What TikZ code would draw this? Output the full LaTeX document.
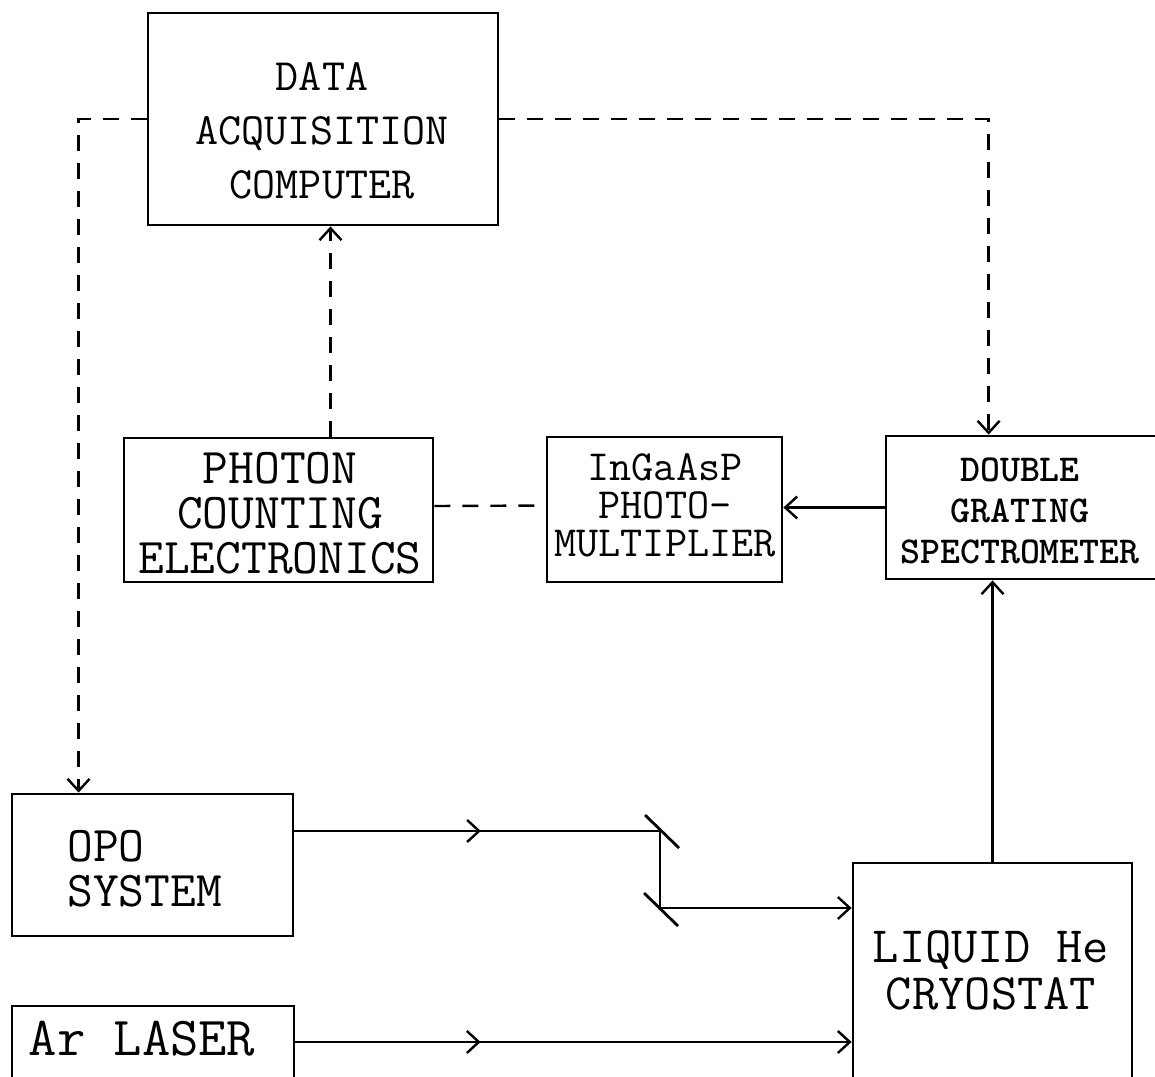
\documentclass[tikz,border=0pt]{standalone}
\usetikzlibrary{arrows.meta,decorations.markings}
\begin{document}
\begin{tikzpicture}[x=0.5pt,y=-0.5pt,
  box/.style={draw,line width=1.4pt,rectangle,inner sep=0pt},
  lbl/.style={inner sep=0pt,align=center,font=\ttfamily},
  conn/.style={line width=1.2pt},
  dashconn/.style={line width=1.2pt,dash pattern=on 8pt off 6pt},
  tip/.style={-{Straight Barb[length=6pt,width=11pt]}},
  midtip/.style={postaction={decorate},decoration={markings,
     mark=at position #1 with {\arrow{Straight Barb[length=6pt,width=11pt]}}}},
  mirror/.style={line width=1.4pt}]
\useasboundingbox (0,0) rectangle (1155,1076);

% boxes
\node[box,minimum width=175pt,minimum height=106pt] (comp) at (323,119) {};
\node[box,minimum width=154.5pt,minimum height=72pt] (phot) at (278.5,510) {};
\node[box,minimum width=117.5pt,minimum height=72.5pt] (pmt) at (664.5,509.5) {};
\node[box,minimum width=137pt,minimum height=71.5pt] (spec) at (1023,507.5) {};
\node[box,minimum width=140.5pt,minimum height=71pt] (opo) at (152.5,865) {};
\node[box,minimum width=141pt,minimum height=42pt] (ar) at (153,1048) {};
\node[box,minimum width=139.5pt,minimum height=113.5pt] (cryo) at (992.5,976.5) {};

% labels
\node[lbl,font=\ttfamily\fontsize{22.4}{27}\selectfont] (tcomp) at (322,131) {DATA\\ACQUISITION\\COMPUTER};
\node[lbl,font=\ttfamily\fontsize{25}{22.5}\selectfont] (tphot) at (280,513) {PHOTON\\COUNTING\\ELECTRONICS};
\node[lbl,font=\ttfamily\fontsize{21.5}{19}\selectfont] (tpmt) at (665,505) {InGaAsP\\PHOTO-\\MULTIPLIER};
\node[lbl,font=\ttfamily\bfseries\fontsize{19}{20.5}\selectfont] (tspec) at (1020,511) {DOUBLE\\GRATING\\SPECTROMETER};
\node[lbl,align=left,anchor=west,font=\ttfamily\fontsize{25}{22.5}\selectfont] (topo) at (67,869) {OPO\\SYSTEM};
\node[lbl,font=\ttfamily\fontsize{27.5}{27.5}\selectfont] (tar) at (142,1039) {Ar LASER};
\node[lbl,font=\ttfamily\fontsize{25.5}{23.5}\selectfont] (tcryo) at (991,970) {LIQUID He\\CRYOSTAT};

% dashed control lines
\draw[dashconn,tip] (comp.west) -| ([xshift=34pt]opo.north west);
\draw[dashconn,tip] (comp.east) -| ([xshift=52pt]spec.north west);
\draw[dashconn,tip] ([xshift=26pt]phot.north) -- ([xshift=26pt]phot.north |- comp.south);
\draw[dashconn] ([yshift=2pt]phot.east) -- ([yshift=2pt]pmt.west);

% solid optical paths
\draw[conn,tip] (spec.west) -- (spec.west -| pmt.east);
\draw[conn,tip] (cryo.north) -- (cryo.north |- spec.south);

\coordinate (m1) at (660,831);
\coordinate (m2) at (660,908);
\draw[conn,midtip=0.51] ([yshift=17pt]opo.east) -- (m1);
\draw[conn] (m1) -- (m2);
\draw[conn,tip] (m2) -- (m2 -| cryo.west);
\draw[mirror] ([shift={(-15,-16)}]m1) -- ([shift={(19,17)}]m1);
\draw[mirror] ([shift={(-16,-15)}]m2) -- ([shift={(18,18)}]m2);

\draw[conn,tip,midtip=0.333] ([yshift=3pt]ar.east) -- ([yshift=3pt]ar.east -| cryo.west);
\end{tikzpicture}
\end{document}
